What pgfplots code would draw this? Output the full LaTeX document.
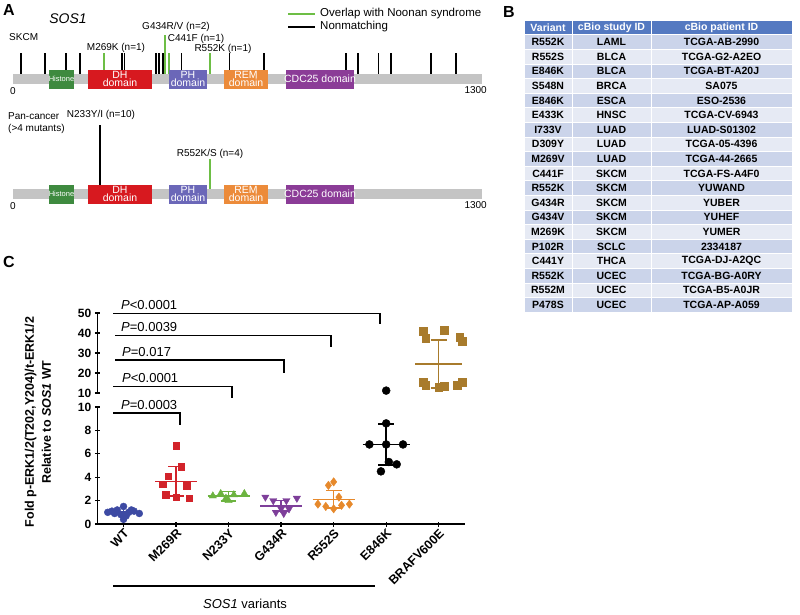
\documentclass[border=0pt]{standalone}
\usepackage{pgfplots}
\pgfplotsset{compat=1.18}
\usepackage{fontspec}
\setmainfont{Liberation Sans}

\definecolor{bargray}{HTML}{C4C4C4}
\definecolor{histone}{HTML}{3E8A3F}
\definecolor{dhred}{HTML}{D7191F}
\definecolor{phblue}{HTML}{6B67B8}
\definecolor{remorange}{HTML}{EC8B3A}
\definecolor{cdcpurple}{HTML}{8B3C97}
\definecolor{nsgreen}{HTML}{6DBE45}
\definecolor{tblhead}{HTML}{5479C1}
\definecolor{rowA}{HTML}{CBD4EA}
\definecolor{rowB}{HTML}{E6EAF4}
\definecolor{wtblue}{HTML}{3D4AA3}
\definecolor{mred}{HTML}{D2232A}
\definecolor{ngreen}{HTML}{6CB33F}
\definecolor{gpurple}{HTML}{7E3F9A}
\definecolor{rorange}{HTML}{E6892C}
\definecolor{bbrown}{HTML}{A87B2C}

% SKCM lollipops (position in aa, height above bar centre)
\pgfplotstableread{
pos h
22 26
89 26
147 26
186 26
302 26
310 26
396 26
405 26
416 26
468 26
601 26
696 26
923 26
956 26
1014 26
1048 26
1159 26
1228 26
}\skcmblack
\pgfplotstableread{
pos h
252 26
419 44
423 44
432 26
546 26
}\skcmgreen

\pgfplotsset{
  protein/.style={scale only axis, width=469pt, xmin=0, xmax=1300, hide axis, clip=false},
  dom/.style={draw=none, fill=#1},
  lolli/.style={ycomb, #1, line width=1.3pt, mark=none},
  msd/.style={line width=1.4pt, mark=none, unbounded coords=jump},
  cpanel/.style={scale only axis, width=367.75pt, xmin=-0.5, xmax=6.5, clip=false,
    tick style={line width=1.3pt, black}, tick align=outside, major tick length=5pt,
    every tick label/.append style={font=\bfseries\fontsize{12}{12}\selectfont},
    /pgf/number format/assume math mode=true},
}

\begin{document}
\begin{tikzpicture}[x=1pt,y=1pt]
\useasboundingbox (0,0) rectangle (800,-614);

% ---------------- panel A, top (SKCM)
\begin{axis}[protein, at={(13pt,-94pt)}, anchor=south west, height=75pt, ymin=-15, ymax=60]
\addplot[lolli=black] table[x=pos, y=h] {\skcmblack};
\addplot[lolli=nsgreen] table[x=pos, y=h] {\skcmgreen};
\addplot[dom=bargray] coordinates {(0,-5)(1300,-5)(1300,5)(0,5)} -- cycle;
\addplot[dom=histone] coordinates {(100,-9.5)(169,-9.5)(169,9.5)(100,9.5)} -- cycle;
\addplot[dom=dhred] coordinates {(208,-9.5)(385,-9.5)(385,9.5)(208,9.5)} -- cycle;
\addplot[dom=phblue] coordinates {(432,-9.5)(538,-9.5)(538,9.5)(432,9.5)} -- cycle;
\addplot[dom=remorange] coordinates {(585,-9.5)(707,-9.5)(707,9.5)(585,9.5)} -- cycle;
\addplot[dom=cdcpurple] coordinates {(757,-9.5)(945,-9.5)(945,9.5)(757,9.5)} -- cycle;
\node[white, font=\fontsize{7.5}{8}\selectfont] at (axis cs:134.5,0) {Histone};
\node[white, align=center, font=\fontsize{10.5}{8.5}\selectfont] at (axis cs:296.5,0) {DH\\domain};
\node[white, align=center, font=\fontsize{10.5}{8.5}\selectfont] at (axis cs:485,0) {PH\\domain};
\node[white, align=center, font=\fontsize{10.5}{8.5}\selectfont] at (axis cs:646,0) {REM\\domain};
\node[white, font=\fontsize{10.5}{10}\selectfont] at (axis cs:851,0) {CDC25 domain};
\end{axis}

% ---------------- panel A, bottom (pan-cancer)
\begin{axis}[protein, at={(13pt,-209pt)}, anchor=south west, height=95pt, ymin=-15, ymax=80]
\addplot[lolli=black] coordinates {(241,69)};
\addplot[lolli=nsgreen] coordinates {(546,35)};
\addplot[dom=bargray] coordinates {(0,-5)(1300,-5)(1300,5)(0,5)} -- cycle;
\addplot[dom=histone] coordinates {(100,-9.5)(169,-9.5)(169,9.5)(100,9.5)} -- cycle;
\addplot[dom=dhred] coordinates {(208,-9.5)(385,-9.5)(385,9.5)(208,9.5)} -- cycle;
\addplot[dom=phblue] coordinates {(432,-9.5)(538,-9.5)(538,9.5)(432,9.5)} -- cycle;
\addplot[dom=remorange] coordinates {(585,-9.5)(707,-9.5)(707,9.5)(585,9.5)} -- cycle;
\addplot[dom=cdcpurple] coordinates {(757,-9.5)(945,-9.5)(945,9.5)(757,9.5)} -- cycle;
\node[white, font=\fontsize{7.5}{8}\selectfont] at (axis cs:134.5,0) {Histone};
\node[white, align=center, font=\fontsize{10.5}{8.5}\selectfont] at (axis cs:296.5,0) {DH\\domain};
\node[white, align=center, font=\fontsize{10.5}{8.5}\selectfont] at (axis cs:485,0) {PH\\domain};
\node[white, align=center, font=\fontsize{10.5}{8.5}\selectfont] at (axis cs:646,0) {REM\\domain};
\node[white, font=\fontsize{10.5}{10}\selectfont] at (axis cs:851,0) {CDC25 domain};
\end{axis}

% panel A texts
\node[anchor=west, font=\bfseries\fontsize{16}{16}\selectfont, inner sep=0] at (3,-10) {A};
\node[font=\itshape\fontsize{14}{14}\selectfont] at (68,-19) {SOS1};
\draw[nsgreen, line width=1.6pt] (288,-14) -- (315,-14);
\draw[black, line width=1.3pt] (288,-27) -- (315,-27);
\begin{scope}[every node/.style={anchor=west, inner sep=0, font=\fontsize{11.5}{11.5}\selectfont}]
\node at (320,-13.7) {Overlap with Noonan syndrome};
\node at (320,-27) {Nonmatching};
\end{scope}
\begin{scope}[every node/.style={inner sep=0, font=\fontsize{10}{10}\selectfont}]
\node[anchor=west] at (9,-37) {SKCM};
\node at (116,-48) {M269K (n=1)};
\node at (176,-27) {G434R/V (n=2)};
\node at (196,-39) {C441F (n=1)};
\node at (223,-49) {R552K (n=1)};
\node[anchor=west] at (10,-91) {0};
\node[anchor=east] at (487,-90) {1300};
\node[anchor=west, align=left, font=\fontsize{10}{12.5}\selectfont] at (8,-123) {Pan-cancer\\(>4 mutants)};
\node at (101,-115) {N233Y/I (n=10)};
\node at (210,-154) {R552K/S (n=4)};
\node[anchor=west] at (10,-206) {0};
\node[anchor=east] at (487,-205) {1300};
\end{scope}

% ---------------- panel B table
\node[anchor=west, font=\bfseries\fontsize{16}{16}\selectfont, inner sep=0] at (503,-12) {B};
\begin{scope}[every node/.style={inner sep=0, font=\bfseries\fontsize{10.5}{10.5}\selectfont}]
\filldraw[fill=tblhead, draw=white, line width=0.8pt] (524,-20.1) rectangle (572,-34.7);
\filldraw[fill=tblhead, draw=white, line width=0.8pt] (572,-20.1) rectangle (651,-34.7);
\filldraw[fill=tblhead, draw=white, line width=0.8pt] (651,-20.1) rectangle (792,-34.7);
\node[white] at (548,-27.4) {Variant};
\node[white] at (611.5,-27.4) {cBio study ID};
\node[white] at (721.5,-27.4) {cBio patient ID};
\foreach \v/\s/\p [count=\i] in {
  R552K/LAML/TCGA-AB-2990, R552S/BLCA/TCGA-G2-A2EO, E846K/BLCA/TCGA-BT-A20J,
  S548N/BRCA/SA075, E846K/ESCA/ESO-2536, E433K/HNSC/TCGA-CV-6943,
  I733V/LUAD/LUAD-S01302, D309Y/LUAD/TCGA-05-4396, M269V/LUAD/TCGA-44-2665,
  C441F/SKCM/TCGA-FS-A4F0, R552K/SKCM/YUWAND, G434R/SKCM/YUBER,
  G434V/SKCM/YUHEF, M269K/SKCM/YUMER, P102R/SCLC/2334187,
  C441Y/THCA/TCGA-DJ-A2QC, R552K/UCEC/TCGA-BG-A0RY, R552M/UCEC/TCGA-B5-A0JR,
  P478S/UCEC/TCGA-AP-A059} {
  \pgfmathsetmacro\yc{27.4+14.6*\i}
  \pgfmathsetmacro\yt{\yc-7.3}
  \pgfmathsetmacro\yb{\yc+7.3}
  \ifodd\i \def\rc{rowA}\else \def\rc{rowB}\fi
  \filldraw[fill=\rc, draw=white, line width=0.8pt] (524,-\yt) rectangle (572,-\yb);
  \filldraw[fill=\rc, draw=white, line width=0.8pt] (572,-\yt) rectangle (651,-\yb);
  \filldraw[fill=\rc, draw=white, line width=0.8pt] (651,-\yt) rectangle (792,-\yb);
  \node at (548,-\yc) {\v};
  \node at (611.5,-\yc) {\s};
  \node at (721.5,-\yc) {\p};
}
\end{scope}

% ---------------- panel C
\node[anchor=west, font=\bfseries\fontsize{16}{16}\selectfont, inner sep=0] at (3,-262) {C};

% lower segment 0..10
\begin{axis}[cpanel, at={(97.25pt,-524pt)}, anchor=south west, height=117pt,
  ymin=0, ymax=10, axis x line=bottom, axis y line=left,
  axis line style={-, line width=1.3pt},
  ytick={0,2,4,6,8,10}, xtick={0,1,2,3,4,5,6},
  xticklabels={WT,M269R,N233Y,G434R,R552S,E846K,BRAFV600E},
  xticklabel style={rotate=45, anchor=north east, inner sep=1pt,
    font=\bfseries\fontsize{12.5}{12.5}\selectfont}]
\addplot[only marks, mark=*, color=wtblue, mark size=3.5pt] coordinates {
  (-0.30,1.0)(-0.22,1.1)(-0.12,1.2)(0,1.5)(0,0.4)(0.10,1.0)(0.20,1.1)(0.30,0.9)
  (-0.05,0.8)(0.05,0.7)(0.15,1.2)(-0.17,0.9)};
\addplot[only marks, mark=square*, color=mred, mark size=3.3pt] coordinates {
  (1,6.7)(1.10,4.9)(0.85,4.1)(0.75,3.4)(1.2,3.3)(0.8,2.5)(1.0,2.3)(1.25,2.2)};
\addplot[only marks, mark=triangle*, color=ngreen, mark size=4.2pt] coordinates {
  (1.7,2.4)(1.85,2.6)(2.0,2.0)(2.1,2.5)(2.3,2.6)(1.95,2.2)};
\addplot[only marks, mark=triangle*, mark options={rotate=180}, color=gpurple, mark size=4.2pt] coordinates {
  (2.7,2.3)(2.85,2.0)(3.0,1.3)(3.1,2.0)(3.3,2.2)(2.9,1.0)(3.05,0.9)(3.15,1.3)};
\addplot[only marks, mark=diamond*, color=rorange, mark size=4.2pt] coordinates {
  (4.0,3.6)(3.9,3.3)(4.1,2.3)(3.7,1.7)(4.3,1.7)(3.85,1.5)(4.15,1.6)(4.0,1.3)};
\addplot[only marks, mark=*, color=black, mark size=4pt] coordinates {
  (4.68,6.8)(5.0,6.8)(5.32,6.8)(5.0,8.6)(5.05,5.3)(5.2,5.1)(4.9,4.5)};
% mean (line) and SD (bar with caps)
\addplot[msd, wtblue] coordinates {(-0.33,1.03)(0.33,1.03)(0,nan)(0,0.83)(0,1.23)};
\addplot[msd, mred] coordinates {(0.6,3.65)(1.4,3.65)(1,nan)(0.85,2.4)(1.15,2.4)(1,nan)(0.85,4.9)(1.15,4.9)(1,nan)(1,2.4)(1,4.9)};
\addplot[msd, ngreen] coordinates {(1.6,2.38)(2.4,2.38)(2,nan)(1.85,1.96)(2.15,1.96)(2,nan)(1.85,2.8)(2.15,2.8)(2,nan)(2,1.96)(2,2.8)};
\addplot[msd, gpurple] coordinates {(2.6,1.55)(3.4,1.55)(3,nan)(2.85,1.1)(3.15,1.1)(3,nan)(2.85,2.0)(3.15,2.0)(3,nan)(3,1.1)(3,2.0)};
\addplot[msd, rorange] coordinates {(3.6,2.12)(4.4,2.12)(4,nan)(3.85,1.37)(4.15,1.37)(4,nan)(3.85,2.87)(4.15,2.87)(4,nan)(4,1.37)(4,2.87)};
\addplot[msd, black] coordinates {(4.55,6.8)(5.45,6.8)(5,nan)(4.85,5.05)(5.15,5.05)(5,nan)(4.85,8.55)(5.15,8.55)(5,nan)(5,5.05)(5,8.55)};
\end{axis}

% upper segment 10..50
\begin{axis}[cpanel, at={(97.25pt,-393pt)}, anchor=south west, height=80pt,
  ymin=10, ymax=50, axis x line=none, axis y line=left,
  axis line style={-, line width=1.3pt},
  ytick={10,20,30,40,50}, xtick=\empty]
\addplot[only marks, mark=*, color=black, mark size=4pt] coordinates {(5,11.2)};
\addplot[only marks, mark=square*, color=bbrown, mark size=3.8pt] coordinates {
  (5.7,41)(6.1,41.5)(6.4,38)(5.75,37.5)(6.45,36)
  (5.7,15.5)(5.75,14)(6.1,13.5)(6.35,14)(6.45,15.5)(6.0,13)};
\addplot[msd, bbrown] coordinates {(5.55,24.5)(6.45,24.5)(6,nan)(5.85,12.5)(6.15,12.5)(6,nan)(5.85,36.5)(6.15,36.5)(6,nan)(6,12.5)(6,36.5)};
\end{axis}

% significance brackets
\begin{scope}[line width=1.3pt]
\draw (113,-313.3) -- (380,-313.3) -- (380,-324);
\draw (115,-335.7) -- (331,-335.7) -- (331,-347);
\draw (115,-360) -- (284,-360) -- (284,-373);
\draw (113,-386.7) -- (232,-386.7) -- (232,-398);
\draw (113,-413) -- (180,-413) -- (180,-425);
\end{scope}
\begin{scope}[every node/.style={anchor=base west, inner sep=0, font=\fontsize{13}{13}\selectfont}]
\node at (121,-309) {\textit{P}<0.0001};
\node at (121,-331.5) {\textit{P}=0.0039};
\node at (122,-356) {\textit{P}=0.017};
\node at (122,-382.5) {\textit{P}<0.0001};
\node at (121,-409) {\textit{P}=0.0003};
\end{scope}

\node[rotate=90, align=center, font=\bfseries\fontsize{12.5}{17}\selectfont] at (38,-422)
  {Fold p-ERK1/2(T202,Y204)/t-ERK1/2\\Relative to \textit{SOS1} WT};

\draw[line width=1.3pt] (113,-586) -- (375,-586);
\node[font=\fontsize{13}{13}\selectfont] at (245,-604) {\textit{SOS1} variants};

\end{tikzpicture}
\end{document}
